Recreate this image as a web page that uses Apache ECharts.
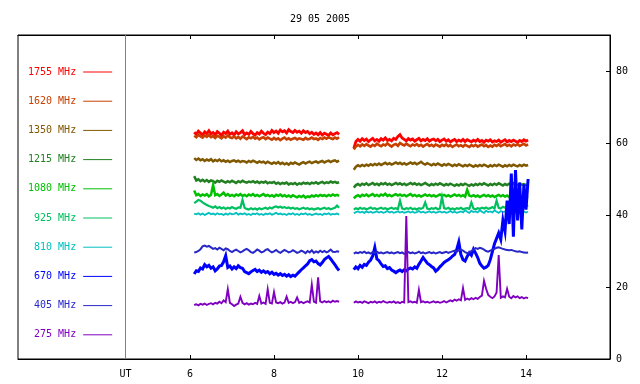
<!DOCTYPE html>
<html>
<head>
<meta charset="utf-8">
<script src="https://cdn.jsdelivr.net/npm/echarts@6/dist/echarts.min.js"></script>
<style>
html,body{margin:0;padding:0;background:#fff;}
#chart{width:640px;height:384px;}
</style>
</head>
<body>
<div id="chart"></div>
<script>
// frequencies, top of legend first
var names = ['1755 MHz','1620 MHz','1350 MHz','1215 MHz','1080 MHz','925 MHz','810 MHz','670 MHz','405 MHz','275 MHz'];
var colors = ['#ff0000','#c84000','#805800','#228022','#00c000','#00c060','#00c0c0','#0000ff','#2828c8','#8000c0'];
var widths = [2.8, 2.6, 2.5, 2.5, 2.5, 2.2, 1.8, 3.0, 2.0, 1.9];

// sampling of the two observing runs (hours UT)
var SEG1_START = 6.10, SEG2_START = 9.90, STEP = 0.05, GAP_AT = 9.72;
var UT_POS = 4.464;
var xTicks = [6, 8, 10, 12, 14];
var yTicks = [0, 20, 40, 60, 80];

// flux values, first run / second run
var f1755a = [63.0,62.4,63.3,62.8,62.2,63.1,62.6,63.4,62.5,62.9,62.3,63.2,62.7,62.1,63.0,62.6,63.3,62.4,62.8,62.2,63.1,62.5,62.9,63.4,62.3,62.8,62.4,63.2,62.6,62.2,62.9,62.5,63.3,62.7,62.3,63.0,62.6,63.5,62.9,63.3,62.7,63.6,63.1,63.4,62.8,63.7,63.2,62.9,63.5,63.0,63.3,62.7,63.4,62.9,63.2,62.6,63.0,62.4,62.8,62.3,62.9,62.2,62.7,62.4,62.1,62.8,62.3,62.6,62.9,62.4];
var f1755b = [58.5,60.4,61.0,60.5,61.2,60.7,61.1,60.4,60.9,61.3,60.6,61.0,60.5,61.2,60.8,61.4,60.7,61.0,60.6,61.3,61.0,61.8,62.3,61.4,61.0,60.6,61.2,60.8,61.1,60.5,60.9,61.3,60.6,61.0,60.7,61.2,60.5,60.9,61.1,60.6,61.0,60.4,60.8,61.1,60.5,60.9,60.3,60.7,61.0,60.4,60.8,60.5,61.0,60.4,60.9,60.6,60.3,60.8,60.5,61.0,60.4,60.7,60.2,60.8,60.5,60.9,60.3,60.6,60.4,60.8,60.2,60.6,60.9,60.3,60.7,60.4,60.8,60.5,60.2,60.7,60.4,60.9,60.5,60.8];
var f1620a = [62.0,61.6,62.3,61.8,61.5,62.1,61.7,62.2,61.6,61.9,61.4,62.0,61.7,61.3,61.9,61.5,62.1,61.6,61.4,61.8,61.3,61.7,61.2,61.8,61.5,61.1,61.6,61.3,61.7,61.2,61.5,61.0,61.4,61.6,61.1,61.5,61.2,60.9,61.4,61.0,61.3,60.8,61.2,61.5,61.0,61.3,60.9,61.2,61.4,61.0,61.3,61.1,60.9,61.4,61.0,61.2,61.5,61.1,61.3,60.9,61.4,61.1,61.5,61.2,61.6,61.3,61.1,61.5,61.2,61.6];
var f1620b = [58.2,59.0,59.5,59.1,59.6,59.2,59.7,59.3,59.0,59.5,59.2,59.8,59.4,59.1,59.6,59.3,59.9,59.4,59.0,59.5,59.7,59.2,60.0,59.6,59.3,59.8,59.4,59.1,59.6,59.3,59.7,59.2,59.5,59.0,59.4,59.7,59.2,59.5,59.1,59.6,59.3,59.0,59.5,59.2,59.6,59.1,59.4,58.9,59.3,59.6,59.1,59.4,59.0,59.5,59.2,58.9,59.4,59.1,59.5,59.0,59.3,59.6,59.1,59.4,58.9,59.3,59.0,59.5,59.2,59.6,59.1,59.4,59.7,59.2,59.5,59.1,59.6,59.3,59.7,59.2,59.5,59.8,59.3,59.6];
var f1350a = [55.8,55.3,55.7,55.2,55.5,55.0,55.4,55.1,55.5,54.9,55.3,55.0,55.4,54.9,55.2,54.8,55.1,54.7,55.0,55.2,54.8,55.1,54.7,55.0,54.9,54.6,55.0,54.7,55.1,54.8,54.5,54.9,54.6,54.8,54.4,54.8,54.5,54.2,54.6,54.3,54.7,54.2,54.5,54.1,54.4,54.0,54.5,54.2,54.6,54.3,54.0,54.4,54.7,54.3,54.6,54.8,54.4,54.7,54.9,54.5,54.8,55.0,54.6,54.9,55.1,54.7,55.0,55.2,54.8,55.1];
var f1350b = [52.6,53.4,53.8,53.5,53.9,53.6,54.0,53.7,54.1,53.8,54.2,53.9,54.3,53.9,54.2,54.5,54.1,54.4,54.0,54.3,54.6,54.2,54.5,54.1,54.4,54.0,54.3,54.6,54.2,54.5,54.1,54.4,54.8,54.3,54.0,54.4,54.1,53.8,54.2,53.9,54.3,54.0,53.7,54.1,53.8,54.2,53.9,53.6,54.0,53.7,54.1,53.8,53.5,53.9,53.6,54.0,53.7,53.4,53.8,53.5,53.9,53.6,54.0,53.7,53.4,53.8,53.5,53.9,53.6,54.0,53.7,53.4,53.8,53.5,53.9,53.6,54.0,53.7,53.5,53.9,53.6,54.0,53.7,53.9];
var f1215a = [50.8,49.6,49.9,49.4,49.8,49.3,49.7,49.2,49.6,49.4,49.0,49.5,49.2,49.6,49.3,49.0,49.4,49.1,49.5,49.2,48.9,49.4,49.1,49.5,49.2,49.0,49.3,49.1,49.4,49.0,49.3,48.9,49.2,49.0,49.3,48.8,49.1,48.9,49.2,48.7,49.0,48.6,48.9,48.7,49.0,48.5,48.8,48.6,48.9,48.4,48.8,48.6,49.0,48.7,48.9,48.6,49.0,48.8,49.1,48.7,49.0,49.2,48.8,49.1,48.9,49.3,49.0,49.2,48.9,49.1];
var f1215b = [47.6,48.3,48.6,48.2,48.7,48.4,48.8,48.3,48.6,48.9,48.4,48.7,48.3,48.8,48.5,48.9,48.4,48.7,48.3,48.6,48.9,48.5,48.8,48.4,48.7,48.3,48.6,48.9,48.5,48.8,48.4,48.7,48.3,48.6,48.9,48.5,48.2,48.6,48.3,48.7,48.4,48.8,48.5,48.2,48.6,48.3,48.7,48.4,48.1,48.5,48.2,48.6,48.3,48.7,48.4,48.1,48.5,48.2,48.6,48.3,48.7,48.4,48.8,48.5,48.2,48.6,48.3,48.7,48.4,48.8,48.5,48.2,48.6,48.3,48.7,48.4,48.8,48.5,48.3,48.7,48.4,48.6,48.3,48.5];
var f1080a = [46.8,45.5,45.8,45.3,45.7,45.4,45.8,45.2,45.6,48.3,45.5,45.8,45.3,45.7,46.2,45.4,45.8,45.3,45.6,45.2,45.7,45.4,45.8,45.3,45.6,45.2,45.7,45.4,45.8,45.3,45.6,45.2,45.5,45.8,45.3,45.6,45.2,45.5,45.1,45.6,45.3,45.7,45.2,45.5,45.1,45.4,45.0,45.5,45.2,44.9,45.3,45.0,45.4,44.8,45.2,45.0,45.4,45.1,45.5,45.2,45.6,45.3,45.5,45.2,45.6,45.3,45.7,45.4,45.6,45.3];
var f1080b = [44.6,45.2,45.5,45.1,45.6,45.3,45.7,45.2,45.5,45.8,45.3,45.6,45.2,45.7,45.4,45.9,45.3,45.6,45.2,45.5,45.8,45.4,45.7,45.3,45.6,45.2,45.5,45.8,45.3,45.6,45.2,45.5,45.1,45.4,45.7,45.3,45.6,45.2,45.5,45.1,45.4,45.7,45.3,45.6,45.2,45.5,45.1,45.4,45.7,45.3,45.6,45.2,45.5,45.1,47.0,45.4,45.2,45.5,45.1,45.4,45.0,45.3,45.6,45.2,45.5,45.1,45.4,45.0,45.3,45.6,45.2,45.5,45.1,45.4,45.0,45.3,45.1,45.4,45.0,45.3,45.1,45.4,45.0,45.2];
var f925a = [43.3,43.7,44.2,44.0,43.5,43.1,42.8,42.5,42.3,42.0,42.4,41.9,42.2,41.8,42.1,41.7,42.0,41.8,42.2,41.9,41.7,42.1,42.0,44.2,42.0,41.7,41.5,41.9,41.6,41.8,41.5,41.9,41.6,41.8,42.0,41.7,42.1,41.8,42.2,42.4,42.1,42.3,42.0,42.2,41.9,42.1,41.8,42.0,41.7,41.9,41.6,41.8,42.0,41.7,41.9,41.6,41.8,41.5,41.7,41.9,41.6,41.8,42.0,41.7,41.9,41.6,41.8,42.0,42.6,42.0];
var f925b = [41.5,41.9,41.6,42.0,41.7,41.9,41.6,41.8,42.1,41.7,41.9,41.6,41.8,42.0,41.7,41.9,41.6,41.8,42.0,41.7,41.9,41.6,44.0,41.8,41.6,41.9,41.7,42.0,41.6,41.8,41.5,41.9,41.7,42.0,43.5,41.8,41.6,41.9,41.7,42.0,41.6,41.8,45.0,41.9,41.7,42.0,41.6,41.8,41.5,41.9,41.7,42.0,41.6,41.8,41.9,41.7,43.5,41.8,41.6,41.9,41.7,42.0,41.8,42.1,41.7,41.9,42.2,41.8,44.0,42.0,41.8,42.3,42.0,42.5,42.2,42.7,42.4,42.8,42.5,42.9,42.6,42.8,42.4,42.7];
var f810a = [40.4,40.2,40.5,40.1,40.4,40.0,40.3,40.6,40.2,40.4,40.1,40.5,40.2,40.3,40.0,40.4,40.1,40.5,40.2,40.3,40.6,40.1,40.4,40.2,40.5,40.1,40.3,40.0,40.4,40.2,40.5,40.1,40.3,40.0,40.4,40.2,40.5,40.1,40.3,40.6,40.2,40.4,40.1,40.3,40.0,40.4,40.2,40.5,40.1,40.3,40.0,40.4,40.2,40.5,40.1,40.3,40.0,40.2,40.4,40.1,40.3,40.0,40.4,40.2,40.5,40.1,40.3,40.2,40.4,40.1];
var f810b = [40.5,40.8,41.0,40.7,40.9,40.6,41.0,40.7,40.9,40.6,40.8,41.0,40.7,40.9,40.6,40.8,41.1,40.7,40.9,40.6,40.8,41.0,40.7,40.9,40.6,40.8,41.0,40.7,40.9,40.6,40.8,41.1,40.7,40.9,40.6,40.8,41.0,40.7,40.9,40.6,40.8,41.0,40.7,40.9,40.6,40.8,41.1,40.7,40.9,40.6,40.8,41.0,40.7,41.3,40.9,40.6,41.2,40.8,41.0,40.7,41.4,40.9,40.6,41.2,40.8,41.0,40.7,41.3,40.9,40.6,41.1,40.8,41.0,40.7,40.9,40.6,41.0,40.7,40.9,40.6,40.8,41.0,40.7,40.9];
var f670a = [23.6,24.5,24.3,25.3,25.0,26.2,25.6,26.0,25.2,25.6,24.5,25.0,25.8,26.0,27.0,28.7,25.4,25.8,25.0,25.6,25.1,25.9,25.4,25.2,24.3,24.0,23.7,24.2,24.6,24.9,24.3,24.7,24.1,24.5,24.0,24.3,23.7,24.1,23.5,23.8,23.3,23.7,23.2,23.5,23.0,23.4,22.9,23.3,23.0,23.6,24.2,24.8,25.3,25.9,26.4,27.3,27.6,27.0,27.2,26.5,26.1,26.8,27.6,28.1,28.5,27.8,27.0,26.2,25.3,24.6];
var f670b = [24.8,25.6,25.1,26.0,25.5,26.3,26.0,26.9,27.5,28.6,31.0,27.8,27.3,26.4,25.7,25.9,25.1,25.4,24.7,24.4,24.0,24.4,24.7,24.3,24.8,24.5,25.0,25.3,25.0,25.6,25.2,26.3,27.2,28.2,27.4,26.6,26.2,25.7,25.3,24.4,24.9,25.6,26.2,26.8,27.2,27.6,28.0,28.6,29.0,30.4,32.5,29.0,27.6,27.2,28.5,29.5,28.8,30.5,29.4,28.2,26.6,25.8,25.2,25.5,26.0,27.6,29.8,32.0,33.5,35.0,33.2,38.5,35.5,44.0,37.5,51.5,34.0,52.5,38.5,49.0,36.0,48.5,41.5,50.0];
var f405a = [29.6,29.7,30.0,30.5,31.3,31.5,31.2,31.4,31.0,30.6,30.8,30.4,30.9,30.6,30.2,30.7,30.5,30.0,29.7,30.1,30.4,30.0,29.6,29.9,30.3,30.6,30.2,29.7,29.5,29.9,30.4,30.1,29.6,29.8,30.3,30.5,30.0,29.6,29.9,30.3,29.8,29.5,29.9,30.3,30.0,29.6,29.8,30.2,29.9,29.5,29.7,30.1,29.8,29.4,30.0,29.6,30.2,29.5,29.9,29.6,30.1,29.7,30.0,29.6,29.9,30.4,29.8,29.7,29.9,29.8];
var f405b = [29.3,29.6,29.4,29.7,29.5,29.8,29.4,29.6,29.3,29.7,29.5,29.8,29.4,29.6,29.3,29.5,29.7,29.4,29.6,29.3,29.5,29.7,29.4,29.6,29.2,29.5,29.7,29.4,29.6,29.3,29.5,29.8,29.4,29.6,29.3,29.5,29.7,29.4,29.6,29.3,29.5,29.7,29.4,29.6,29.8,29.5,29.7,29.9,30.1,29.8,30.2,30.4,30.1,29.7,29.4,29.6,30.0,30.4,30.8,30.6,30.9,30.7,30.4,30.0,29.8,30.1,30.4,30.6,30.9,31.0,30.8,30.6,30.4,30.3,30.2,30.3,30.1,29.9,29.8,29.9,29.7,29.6,29.5,29.6];
var f275a = [15.0,15.2,14.9,15.3,15.1,15.4,15.0,15.3,15.5,15.2,15.6,15.4,15.9,15.5,16.3,15.8,19.4,15.6,15.2,14.7,15.1,15.4,17.3,15.6,15.2,15.5,15.1,15.4,15.2,15.6,15.3,17.5,15.4,15.7,15.3,19.4,15.6,15.4,18.6,15.7,15.5,15.8,15.4,15.7,17.3,15.6,15.9,15.5,15.8,17.1,15.6,15.9,15.5,15.8,16.0,15.7,20.7,15.9,15.6,22.7,16.0,15.7,16.1,15.8,16.0,15.7,16.2,15.9,16.1,15.9];
var f275b = [15.6,16.0,15.7,15.9,15.6,16.0,15.8,15.5,15.9,15.7,16.0,15.6,15.9,15.7,16.1,15.8,15.6,15.9,15.7,16.0,15.6,15.8,15.5,15.9,15.7,39.7,15.8,16.0,15.7,15.9,15.6,19.2,15.8,16.0,15.7,15.9,15.6,15.8,16.0,15.7,15.9,15.6,15.8,16.1,15.7,16.0,16.3,16.0,16.5,16.2,16.6,16.3,19.7,16.4,16.8,16.5,16.9,16.6,17.0,16.7,17.2,17.6,21.7,19.5,17.8,17.3,16.9,17.4,18.5,28.9,17.0,17.4,17.1,19.5,17.3,16.9,17.5,17.1,17.4,16.9,17.2,16.8,17.1,16.9];

var runA = [f1755a,f1620a,f1350a,f1215a,f1080a,f925a,f810a,f670a,f405a,f275a];
var runB = [f1755b,f1620b,f1350b,f1215b,f1080b,f925b,f810b,f670b,f405b,f275b];

var FONT = 'DejaVu Sans Mono';

function toPairs(start, arr){
	var out = [];
	for (var i = 0; i < arr.length; i++) {
		out.push([+(start + i * STEP).toFixed(2), arr[i]]);
	}
	return out;
}

function makeSeries(){
	var list = [];
	for (var k = 0; k < names.length; k++) {
		var data = toPairs(SEG1_START, runA[k]);
		data.push([GAP_AT, '-']);
		data = data.concat(toPairs(SEG2_START, runB[k]));
		var s = {
			name: names[k],
			type: 'line',
			data: data,
			showSymbol: false,
			connectNulls: false,
			color: colors[k],
			lineStyle: {width: widths[k], color: colors[k], join: 'miter'},
			animation: false,
			silent: true
		};
		if (k == 0) {
			s.markLine = {
				silent: true,
				symbol: 'none',
				label: {show: false},
				lineStyle: {color: '#808080', width: 1, type: 'solid'},
				data: [{xAxis: UT_POS}]
			};
		}
		list.push(s);
	}
	return list;
}

var chart = echarts.init(document.getElementById('chart'), null, {renderer: 'canvas'});

var option = {
	backgroundColor: '#fff',
	animation: false,
	title: {
		text: '29 05 2005',
		left: 'center',
		top: 9,
		textStyle: {fontFamily: FONT, fontSize: 10, fontWeight: 'normal', color: '#000'}
	},
	legend: {
		orient: 'vertical',
		left: 23,
		top: 60,
		align: 'right',
		icon: 'rect',
		itemWidth: 29,
		itemHeight: 1,
		itemGap: 15.2,
		selectedMode: false,
		formatter: function(n){ return n.length < 8 ? ' ' + n : n; },
		textStyle: {fontFamily: FONT, fontSize: 10, lineHeight: 14, padding: [0, 2, 0, 0]},
		data: names.map(function(n, i){ return {name: n, textStyle: {color: colors[i]}}; })
	},
	grid: {left: 18, right: 30, top: 35, bottom: 25, show: true, borderColor: '#000', borderWidth: 1, containLabel: false},
	xAxis: [{
		type: 'value',
		position: 'bottom',
		min: 1.905,
		max: 16,
		splitLine: {show: false},
		axisLine: {lineStyle: {color: '#000', width: 1}},
		axisTick: {inside: true, length: 4, customValues: xTicks, lineStyle: {color: '#000'}},
		axisLabel: {
			customValues: [UT_POS].concat(xTicks),
			margin: 10,
			color: '#000',
			fontFamily: FONT,
			fontSize: 10,
			formatter: function(v){ return v < 5 ? 'UT' : String(v); }
		}
	}, {
		type: 'value',
		position: 'top',
		min: 1.905,
		max: 16,
		splitLine: {show: false},
		axisLine: {lineStyle: {color: '#000', width: 1}},
		axisTick: {inside: true, length: 4, customValues: xTicks, lineStyle: {color: '#000'}},
		axisLabel: {show: false}
	}],
	yAxis: {
		type: 'value',
		position: 'right',
		min: 0,
		max: 90,
		splitLine: {show: false},
		axisLine: {show: true, lineStyle: {color: '#000', width: 1}},
		axisTick: {show: true, inside: true, length: 4, customValues: yTicks, lineStyle: {color: '#000'}},
		axisLabel: {customValues: yTicks, margin: 6, color: '#000', fontFamily: FONT, fontSize: 10}
	},
	series: makeSeries()
};

chart.setOption(option);
</script>
</body>
</html>
